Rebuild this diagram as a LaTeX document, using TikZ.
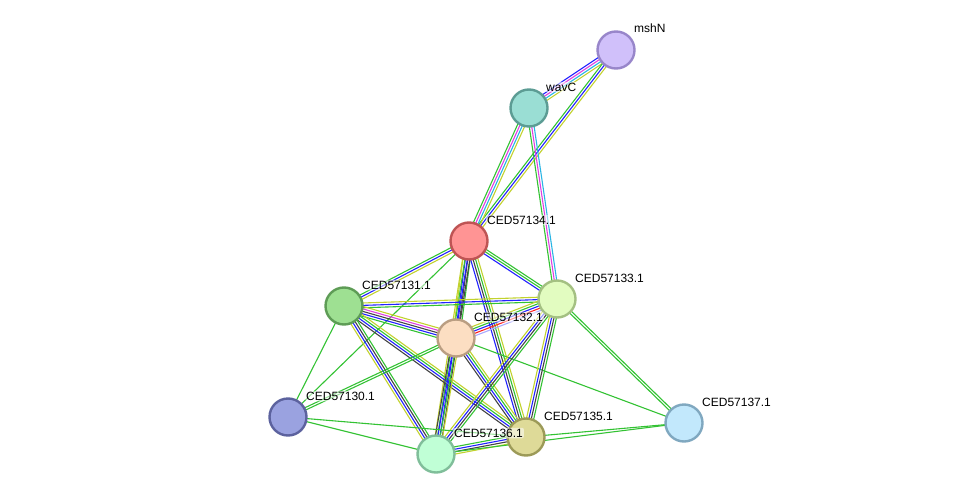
\documentclass[tikz,border=0pt]{standalone}
\usepackage{fontspec}
\setmainfont{Liberation Sans}
\usetikzlibrary{calc}
\pgfdeclarelayer{bg}
\pgfsetlayers{bg,main}
\definecolor{nbc}{HTML}{33C233}
\definecolor{tmc}{HTML}{C2D22E}
\definecolor{coc}{HTML}{2222FF}
\definecolor{cxc}{HTML}{444444}
\definecolor{exc}{HTML}{E040E0}
\definecolor{dbc}{HTML}{2AB4E4}
\definecolor{fuc}{HTML}{FF2222}
\definecolor{hoc}{HTML}{AAAAFF}
\tikzset{
  nb/.style={draw=nbc}, tm/.style={draw=tmc}, co/.style={draw=coc},
  cx/.style={draw=cxc}, ex/.style={draw=exc}, db/.style={draw=dbc},
  fu/.style={draw=fuc}, ho/.style={draw=hoc},
  prot/.style={circle, minimum size=37pt, inner sep=0pt, line width=2.4pt},
  lab/.style={anchor=west, inner sep=1pt, font=\fontsize{12}{14}\selectfont,
    fill=white, fill opacity=0.55, text opacity=1, rounded corners=2pt}
}
\newcommand\stredge[4]{%
  \foreach \c [count=\i] in {#4}{%
    \pgfmathsetmacro\off{(\i-(#3+1)/2)*2.4}%
    \draw[\c, line width=1.1pt] ($(#1)!\off pt!90:(#2)$) -- ($(#2)!\off pt!-90:(#1)$);
  }%
}
\begin{document}
\begin{tikzpicture}[x=1pt,y=-1pt]
\useasboundingbox (0,0) rectangle (976,500);
\node[prot, fill={rgb,255:red,208;green,192;blue,250}, draw={rgb,255:red,152;green,134;blue,202}] (mshN) at (616,50) {};
\node[prot, fill={rgb,255:red,154;green,222;blue,212}, draw={rgb,255:red,92;green,156;blue,148}] (wavC) at (529,108) {};
\node[prot, fill={rgb,255:red,255;green,148;blue,148}, draw={rgb,255:red,190;green,84;blue,84}] (n134) at (469,241) {};
\node[prot, fill={rgb,255:red,226;green,252;blue,192}, draw={rgb,255:red,164;green,192;blue,130}] (n133) at (557,299) {};
\node[prot, fill={rgb,255:red,158;green,224;blue,146}, draw={rgb,255:red,94;green,156;blue,86}] (n131) at (344,306) {};
\node[prot, fill={rgb,255:red,252;green,222;blue,194}, draw={rgb,255:red,186;green,158;blue,130}] (n132) at (456,338) {};
\node[prot, fill={rgb,255:red,154;green,162;blue,224}, draw={rgb,255:red,92;green,98;blue,158}] (n130) at (288,417) {};
\node[prot, fill={rgb,255:red,192;green,255;blue,214}, draw={rgb,255:red,128;green,190;blue,154}] (n136) at (436,454) {};
\node[prot, fill={rgb,255:red,222;green,218;blue,152}, draw={rgb,255:red,156;green,154;blue,88}] (n135) at (526,437) {};
\node[prot, fill={rgb,255:red,194;green,232;blue,252}, draw={rgb,255:red,128;green,168;blue,192}] (n137) at (684,423) {};
\begin{pgfonlayer}{bg}
\stredge{mshN}{wavC}{4}{co,ex,db,tm}
\stredge{mshN}{n134}{3}{nb,co,tm}
\stredge{wavC}{n134}{4}{nb,ex,db,tm}
\stredge{wavC}{n133}{3}{nb,ex,db}
\stredge{n134}{n131}{3}{nb,co,tm}
\stredge{n134}{n133}{3}{co,nb,nb}
\stredge{n134}{n132}{4}{tm,co,cx,nb}
\stredge{n134}{n136}{4}{tm,nb,co,cx}
\stredge{n134}{n135}{4}{co,cx,nb,tm}
\stredge{n134}{n130}{1}{nb}
\stredge{n131}{n133}{3}{nb,co,tm}
\stredge{n131}{n132}{5}{nb,co,cx,ex,tm}
\stredge{n131}{n135}{4}{cx,co,nb,tm}
\stredge{n131}{n136}{4}{tm,co,cx,nb}
\stredge{n131}{n130}{1}{nb}
\stredge{n132}{n133}{5}{ho,fu,co,nb,tm}
\stredge{n132}{n136}{4}{cx,co,nb,tm}
\stredge{n132}{n135}{4}{cx,co,nb,tm}
\stredge{n132}{n130}{2}{nb,nb}
\stredge{n132}{n137}{1}{nb}
\stredge{n133}{n136}{4}{tm,co,cx,nb}
\stredge{n133}{n135}{4}{tm,co,cx,nb}
\stredge{n133}{n137}{2}{nb,nb}
\stredge{n130}{n136}{1}{nb}
\stredge{n130}{n135}{1}{nb}
\stredge{n136}{n135}{4}{tm,cx,co,nb}
\stredge{n135}{n137}{1}{nb}
\stredge{n136}{n137}{1}{nb}
\end{pgfonlayer}
\node[lab] (lmshN) at (633,28) {mshN};
\node[lab] (lwavC) at (545,87) {wavC};
\node[lab] (l134) at (486,220) {CED57134.1};
\node[lab] (l133) at (574,278) {CED57133.1};
\node[lab] (l131) at (361,285) {CED57131.1};
\node[lab] (l132) at (473,317) {CED57132.1};
\node[lab] (l130) at (305,396) {CED57130.1};
\node[lab] (l136) at (453,433) {CED57136.1};
\node[lab] (l135) at (543,416) {CED57135.1};
\node[lab] (l137) at (701,402) {CED57137.1};
\end{tikzpicture}
\end{document}
